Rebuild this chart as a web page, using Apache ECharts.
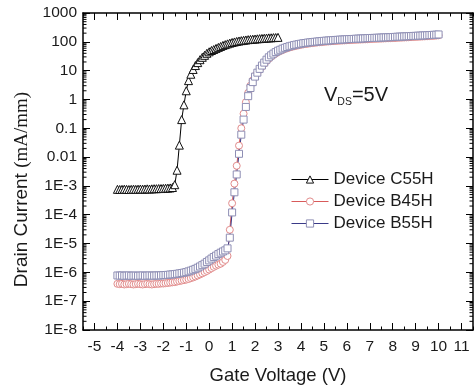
<!DOCTYPE html>
<html><head><meta charset="utf-8">
<script src="https://cdn.jsdelivr.net/npm/echarts@6/dist/echarts.min.js"></script>
<style>html,body{margin:0;padding:0;background:#fff}#c{width:475px;height:391px}</style>
</head><body><div id="c"></div>
<script>
// Gate voltage sweeps (V): start, step
const sweepC55H = { start: -4, step: 0.1, count: 71 };
const sweepB = { start: -4, step: 0.1, count: 141 };

// Drain current (mA/mm)
const currentC55H = [
  7.6e-4, 7.5e-4, 7.6e-4, 7.7e-4, 7.6e-4, 7.5e-4, 7.6e-4, 7.7e-4, 7.6e-4, 7.7e-4,
  7.8e-4, 7.7e-4, 7.8e-4, 7.9e-4, 7.8e-4, 7.9e-4, 8.0e-4, 8.0e-4, 8.1e-4, 8.1e-4,
  8.2e-4, 8.3e-4, 8.4e-4, 8.5e-4, 8.8e-4, 1.1e-3, 3.5e-3, 0.026, 0.2, 0.65,
  2.0, 4.5, 7.5, 11, 15, 19, 24, 29, 34, 40,
  45, 50, 54, 59, 64, 69, 75, 80, 85, 90,
  95, 99, 103, 107, 110, 113, 116, 119, 121, 123,
  125, 127, 129, 131, 133, 135, 137, 138, 140, 141,
  143
];
const currentB45H = [
  4.0e-7, 3.9e-7, 4.0e-7, 3.8e-7, 3.9e-7, 4.0e-7, 3.9e-7, 3.8e-7, 3.9e-7, 4.0e-7,
  3.9e-7, 3.8e-7, 3.9e-7, 4.0e-7, 3.9e-7, 3.8e-7, 3.9e-7, 4.0e-7, 4.0e-7, 4.1e-7,
  4.1e-7, 4.2e-7, 4.3e-7, 4.4e-7, 4.5e-7, 4.6e-7, 4.8e-7, 5.0e-7, 5.2e-7, 5.4e-7,
  5.6e-7, 5.9e-7, 6.3e-7, 6.7e-7, 7.2e-7, 7.8e-7, 8.5e-7, 9.3e-7, 1.02e-6, 1.12e-6,
  1.25e-6, 1.4e-6, 1.55e-6, 1.7e-6, 1.85e-6, 2.0e-6, 2.3e-6, 2.7e-6, 3.7e-6, 3.0e-5,
  2.5e-4, 1.2e-3, 5e-3, 0.025, 0.1, 0.32, 0.8, 1.7, 3.0, 4.6,
  6.5, 8.3, 10.8, 13.8, 17.5, 21.5, 26, 30.5, 35, 39.5,
  44, 48, 52, 56, 60, 63.5, 67, 70, 73, 76,
  79, 81.5, 84, 86, 88.5, 90.5, 92.5, 94.5, 96.5, 98,
  100, 101.5, 103, 104.5, 106, 107, 108.5, 110, 111, 112,
  113.5, 114.5, 115.5, 117, 118, 119, 120, 121, 122, 123,
  124.5, 125.5, 126.5, 127.5, 128.5, 129.5, 131, 132, 133, 134,
  135, 136, 137.5, 139, 140, 141.5, 142.5, 144, 145.5, 147,
  148.5, 150, 151.5, 153, 154.5, 156, 158, 160, 162, 165,
  168
];
const currentB55H = [
  7.8e-7, 7.7e-7, 7.8e-7, 7.6e-7, 7.7e-7, 7.8e-7, 7.6e-7, 7.7e-7, 7.7e-7, 7.6e-7,
  7.7e-7, 7.8e-7, 7.6e-7, 7.7e-7, 7.8e-7, 7.7e-7, 7.7e-7, 7.8e-7, 7.8e-7, 7.9e-7,
  8.0e-7, 8.1e-7, 8.2e-7, 8.4e-7, 8.5e-7, 8.7e-7, 8.9e-7, 9.2e-7, 9.5e-7, 9.8e-7,
  1.02e-6, 1.08e-6, 1.15e-6, 1.23e-6, 1.32e-6, 1.45e-6, 1.6e-6, 1.78e-6, 2.0e-6, 2.3e-6,
  2.6e-6, 3.0e-6, 3.4e-6, 3.8e-6, 4.3e-6, 4.8e-6, 5.3e-6, 5.8e-6, 6.8e-6, 1.6e-5,
  1.2e-4, 6e-4, 2.5e-3, 0.013, 0.06, 0.2, 0.55, 1.3, 2.5, 4.0,
  6.2, 8.5, 11.5, 15, 19, 24, 29, 34, 39, 44,
  49, 53, 58, 62, 66, 70, 73, 77, 80, 83,
  86, 89, 91, 94, 96, 98, 100, 102, 104, 106,
  108, 110, 111, 113, 114, 116, 117, 119, 120, 121,
  123, 124, 125, 126, 128, 129, 130, 131, 132, 134,
  135, 136, 137, 138, 139, 140, 142, 143, 144, 145,
  146, 148, 150, 151, 152, 154, 155, 157, 158, 160,
  161, 163, 164, 166, 167, 169, 171, 173, 175, 177,
  180
];

// Axis tick labels
const xTickValues = [-5, -4, -3, -2, -1, 0, 1, 2, 3, 4, 5, 6, 7, 8, 9, 10, 11];
const yTickExponents = [-8, -7, -6, -5, -4, -3, -2, -1, 0, 1, 2, 3];
const yTickLabels = ['1E-8', '1E-7', '1E-6', '1E-5', '1E-4', '1E-3', '0.01', '0.1', '1', '10', '100', '1000'];
const yMinorMultipliers = [2, 3, 4, 5, 6, 7, 8, 9];

const seriesNames = ['Device C55H', 'Device B45H', 'Device B55H'];

function sweep(s) {
  const out = [];
  for (let i = 0; i < s.count; i++) out.push(Math.round((s.start + i * s.step) * 100) / 100);
  return out;
}
function pairs(xs, ys) { return ys.map((y, i) => [xs[i], y]); }

const vC = sweep(sweepC55H), vB = sweep(sweepB);
const xMin = -5.5, xMax = 11.5;
const yMin = 1e-8, yMax = 1000;

const yMinorValues = [];
yTickExponents.slice(0, -1).forEach(e => yMinorMultipliers.forEach(k => yMinorValues.push(k * Math.pow(10, e))));

const labelMap = {};
yTickExponents.forEach((e, i) => { labelMap[e] = yTickLabels[i]; });

const FONT = 'Liberation Sans, Arial, sans-serif';
const axisColor = '#000';
const textColor = '#1a1a1a';

const chart = echarts.init(document.getElementById('c'), null, { renderer: 'canvas' });

const baseX = {
  type: 'value', min: xMin, max: xMax, interval: 0.5,
  splitLine: { show: false }
};
const baseY = {
  type: 'log', logBase: 10, min: yMin, max: yMax, interval: 1,
  splitLine: { show: false }
};

chart.setOption({
  animation: false,
  backgroundColor: '#fff',
  grid: { left: 83, right: 2, top: 13, bottom: 61, containLabel: false },
  xAxis: [
    Object.assign({}, baseX, {
      position: 'bottom',
      name: 'Gate Voltage (V)', nameLocation: 'middle', nameGap: 36,
      nameTextStyle: { fontFamily: FONT, fontSize: 18.5, color: textColor },
      axisLine: { show: true, onZero: false, lineStyle: { color: axisColor, width: 1.5 } },
      axisTick: { show: true, inside: true, length: 3.5, lineStyle: { color: axisColor } },
      axisLabel: { customValues: xTickValues, fontFamily: FONT, fontSize: 15.5, color: textColor, margin: 9,
        formatter: v => String(Math.round(v)) }
    }),
    Object.assign({}, baseX, {
      position: 'bottom',
      axisLine: { show: false, onZero: false },
      axisTick: { show: true, inside: true, length: 7, customValues: xTickValues, lineStyle: { color: axisColor } },
      axisLabel: { show: false }
    }),
    Object.assign({}, baseX, {
      position: 'top',
      axisLine: { show: true, onZero: false, lineStyle: { color: axisColor, width: 1.5 } },
      axisTick: { show: true, inside: true, length: 3.5, lineStyle: { color: axisColor } },
      axisLabel: { show: false }
    }),
    Object.assign({}, baseX, {
      position: 'top',
      axisLine: { show: false, onZero: false },
      axisTick: { show: true, inside: true, length: 7, customValues: xTickValues, lineStyle: { color: axisColor } },
      axisLabel: { show: false }
    })
  ],
  yAxis: [
    Object.assign({}, baseY, {
      position: 'left',
      name: '{s|Drain Current }{t|(mA/mm)}', nameLocation: 'middle', nameGap: 50,
      nameTextStyle: {
        color: textColor, padding: [0, 36, 0, 0],
        rich: {
          s: { fontFamily: FONT, fontSize: 19, color: textColor },
          t: { fontFamily: 'Liberation Serif, Times New Roman, serif', fontSize: 19, color: textColor }
        }
      },
      axisLine: { show: true, onZero: false, lineStyle: { color: axisColor, width: 1.5 } },
      axisTick: { show: true, inside: true, length: 7, lineStyle: { color: axisColor } },
      axisLabel: { fontFamily: FONT, fontSize: 15.5, color: textColor, margin: 6,
        formatter: v => { const e = Math.round(Math.log10(v)); return labelMap[e] !== undefined ? labelMap[e] : ''; } }
    }),
    Object.assign({}, baseY, {
      position: 'right',
      axisLine: { show: true, onZero: false, lineStyle: { color: axisColor, width: 1.5 } },
      axisTick: { show: true, inside: true, length: 7, lineStyle: { color: axisColor } },
      axisLabel: { show: false }
    })
  ],
  legend: {
    data: seriesNames,
    orient: 'vertical', left: 291, top: 171, padding: 0,
    itemWidth: 37, itemHeight: 9, itemGap: 5,
    lineStyle: { width: 1 },
    itemStyle: { borderWidth: 1 },
    textStyle: { fontFamily: FONT, fontSize: 17, color: textColor }
  },
  graphic: [{
    type: 'text', left: 324, top: 85,
    style: {
      text: '{a|V}{b|DS}{a|=5V}',
      rich: {
        a: { fontFamily: FONT, fontSize: 20, fill: textColor, verticalAlign: 'bottom' },
        b: { fontFamily: FONT, fontSize: 10.5, fill: textColor, verticalAlign: 'bottom', padding: [0, 0, -3, 0] }
      }
    }
  }],
  series: [
    {
      name: seriesNames[0], type: 'line', xAxisIndex: 0, yAxisIndex: 0,
      data: pairs(vC, currentC55H),
      symbol: 'triangle', symbolSize: 8, showAllSymbol: true,
      lineStyle: { color: '#000', width: 1 },
      itemStyle: { color: '#fff', borderColor: '#111', borderWidth: 1 }
    },
    {
      name: seriesNames[1], type: 'line', xAxisIndex: 0, yAxisIndex: 0,
      data: pairs(vB, currentB45H),
      symbol: 'circle', symbolSize: 7, showAllSymbol: true,
      lineStyle: { color: '#d85a5a', width: 1 },
      itemStyle: { color: '#fff', borderColor: '#e28c8c', borderWidth: 1 }
    },
    {
      name: seriesNames[2], type: 'line', xAxisIndex: 0, yAxisIndex: 0,
      data: pairs(vB, currentB55H),
      symbol: 'rect', symbolSize: 7, showAllSymbol: true,
      lineStyle: { color: '#3a3a88', width: 1 },
      itemStyle: { color: '#fff', borderColor: '#8e8eb4', borderWidth: 1 }
    },
    {
      name: 'yMinorTicks', type: 'custom', xAxisIndex: 0, yAxisIndex: 0, silent: true, clip: false,
      data: yMinorValues.map(v => [xMin, v]),
      renderItem: function (params, api) {
        const cs = params.coordSys;
        const y = api.coord([xMin, api.value(1)])[1];
        return {
          type: 'group', children: [
            { type: 'line', shape: { x1: cs.x, y1: y, x2: cs.x + 3.5, y2: y }, style: { stroke: axisColor, lineWidth: 1 } },
            { type: 'line', shape: { x1: cs.x + cs.width, y1: y, x2: cs.x + cs.width - 3.5, y2: y }, style: { stroke: axisColor, lineWidth: 1 } }
          ]
        };
      }
    }
  ]
});
</script>
</body></html>
